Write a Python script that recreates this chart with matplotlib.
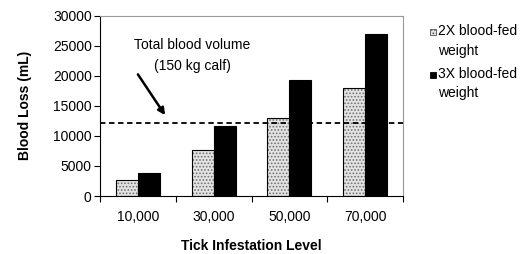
import numpy as np
import matplotlib
matplotlib.use("Agg")
import matplotlib.pyplot as plt
from matplotlib.patches import Rectangle

plt.rcParams['font.family'] = ['Liberation Sans', 'DejaVu Sans']
plt.rcParams['hatch.linewidth'] = 0.8

levels = ["10,000", "30,000", "50,000", "70,000"]
loss_2x = [2600, 7700, 13000, 18000]
loss_3x = [3900, 11700, 19300, 27000]
total_volume = 12200
series_names = ['2X blood-fed\nweight', '3X blood-fed\nweight']

fs = 10

fig = plt.figure(figsize=(5.23, 2.54), dpi=100)
ax = fig.add_axes([0.1912, 0.2283, 0.5794, 0.7106])

x = np.arange(len(levels))
w = 0.29

# dotted bars: gray stipple, then black outline on top
ax.bar(x - w/2, loss_2x, w, color='#e4e4e4', edgecolor='#707070', hatch='.....', linewidth=0)
ax.bar(x - w/2, loss_2x, w, fill=False, edgecolor='black', linewidth=0.8)
ax.bar(x + w/2, loss_3x, w, color='black', edgecolor='black', linewidth=0.8)

ax.axhline(total_volume, color='black', linestyle=(0, (3, 2)), linewidth=1.3)

ax.annotate('', xy=(0.38, 13050), xytext=(-0.02, 20600),
            arrowprops=dict(arrowstyle='-|>', color='black', lw=1.8, mutation_scale=10))
ax.text(0.72, 23300, 'Total blood volume\n(150 kg calf)', ha='center', va='center',
        fontsize=fs, linespacing=1.65)

ax.set_xlim(-0.5, 3.5)
ax.set_ylim(0, 30000)
ax.set_yticks(range(0, 30001, 5000))
ax.set_xticks(x)
ax.set_xticklabels(levels)
ax.set_xticks(np.arange(-0.5, 4, 1), minor=True)
ax.tick_params(axis='x', which='major', length=0, pad=10, labelsize=fs)
ax.tick_params(axis='x', which='minor', length=4, width=0.8)
ax.tick_params(axis='y', length=4, width=0.8, labelsize=fs, pad=2)

for s in ['top', 'right']:
    ax.spines[s].set_color('#999999')
    ax.spines[s].set_linewidth(0.8)
for s in ['left', 'bottom']:
    ax.spines[s].set_linewidth(0.8)

ax.set_xlabel('Tick Infestation Level', fontsize=fs, fontweight='bold', labelpad=11)
ax.set_ylabel('Blood Loss (mL)', fontsize=fs, fontweight='bold', labelpad=15)

# legend drawn by hand, swatch beside the first line of each label
W, H = 523.0, 254.0
swatches = [dict(facecolor='#e4e4e4', edgecolor='#555555', hatch='.....', linewidth=0.6),
            dict(facecolor='black', edgecolor='black', linewidth=0.6)]
for i, (name, sw) in enumerate(zip(series_names, swatches)):
    yc = 32 + i * 43
    fig.add_artist(Rectangle((430 / W, 1 - (yc + 3) / H), 6 / W, 6 / H,
                             transform=fig.transFigure, **sw))
    fig.text(438 / W, 1 - (yc - 8) / H, name, ha='left', va='top',
             fontsize=fs, linespacing=1.5)

fig.savefig('out.png', dpi=100)
